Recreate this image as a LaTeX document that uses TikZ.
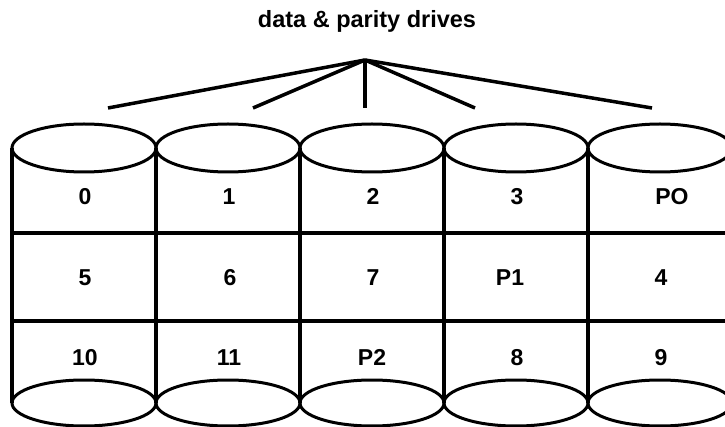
\documentclass[tikz,border=0pt]{standalone}
\usepackage{fontspec}
\setmainfont{Liberation Sans}
\begin{document}
\begin{tikzpicture}[x=1pt,y=-1pt,
  lbl/.style={font=\fontsize{23}{26}\selectfont\bfseries, inner sep=0pt, anchor=base},
  fan/.style={line width=3.5pt},
  rim/.style={line width=3pt},
  grid/.style={line width=3.5pt}]
\useasboundingbox (0,0) rectangle (725,427);
\clip (0,0) rectangle (725,427);
% title
\node[lbl, font=\fontsize{23.5}{26}\selectfont\bfseries] (title) at (367,28) {data \& parity drives};
% fan
\coordinate (apex) at (365,60);
\coordinate (f1) at (108,108);
\coordinate (f2) at (253,108);
\coordinate (f3) at (365,108);
\coordinate (f4) at (475,108);
\coordinate (f5) at (652,108);
\foreach \f in {f1,f2,f3,f4,f5} \draw[fan] (apex) -- (\f);
% vertical and horizontal lines
\foreach \x in {12,156,300,444,588} \draw[grid] (\x,148) -- (\x,403);
\draw[grid] (12,233) -- (740,233);
\draw[grid] (12,321) -- (740,321);
% ellipses
\foreach \i in {0,...,4} {
  \draw[rim] (84+144*\i,148) ellipse [x radius=72, y radius=24];
  \draw[rim] (84+144*\i,403) ellipse [x radius=72, y radius=23];
}
% labels row 1
\node[lbl] (a0) at (85,205) {0};
\node[lbl] (a1) at (229,205) {1};
\node[lbl] (a2) at (373,205) {2};
\node[lbl] (a3) at (517,205) {3};
\node[lbl] (a4) at (672,205) {PO};
% row 2
\node[lbl] (b0) at (85,286) {5};
\node[lbl] (b1) at (230,286) {6};
\node[lbl] (b2) at (373,286) {7};
\node[lbl] (b3) at (510,286) {P1};
\node[lbl] (b4) at (661,286) {4};
% row 3
\node[lbl] (c0) at (85,365) {10};
\node[lbl] (c1) at (229,365) {11};
\node[lbl] (c2) at (372,365) {P2};
\node[lbl] (c3) at (517,365) {8};
\node[lbl] (c4) at (661,365) {9};
\end{tikzpicture}
\end{document}
